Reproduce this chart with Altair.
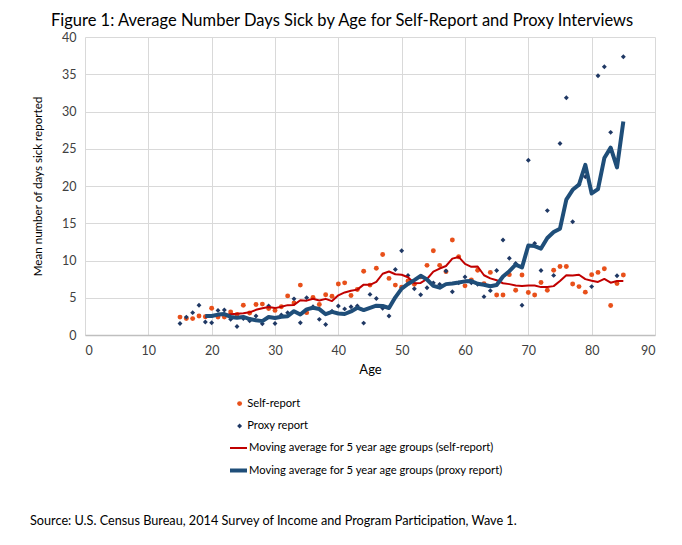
import altair as alt
import pandas as pd

# ---------------- data ----------------
ages = [15, 16, 17, 18, 19, 20, 21, 22, 23, 24, 25, 26, 27, 28, 29, 30, 31, 32, 33, 34,
        35, 36, 37, 38, 39, 40, 41, 42, 43, 44, 45, 46, 47, 48, 49, 50, 51, 52, 53, 54,
        55, 56, 57, 58, 59, 60, 61, 62, 63, 64, 65, 66, 67, 68, 69, 70, 71, 72, 73, 74,
        75, 76, 77, 78, 79, 80, 81, 82, 83, 84, 85]

self_report = [2.4, 2.2, 2.2, 2.55, 2.45, 3.6, 2.4, 2.4, 3.1, 2.75, 4.0, 2.95, 4.1, 4.15, 3.55,
               3.3, 3.8, 5.25, 4.3, 6.7, 3.0, 5.05, 4.1, 5.4, 5.2, 6.85, 7.0, 5.3, 6.1, 8.55,
               6.7, 8.95, 10.8, 7.6, 6.7, 6.4, 7.25, 6.8, 7.8, 9.35, 11.3, 9.35, 8.5, 12.75, 10.5,
               6.6, 7.4, 8.7, 6.9, 8.4, 5.37, 5.37, 8.1, 6.0, 8.05, 5.7, 5.37, 7.05, 6.0, 8.7,
               9.2, 9.2, 6.85, 6.5, 5.75, 8.1, 8.4, 8.9, 3.95, 6.9, 8.05]

proxy_report = [1.55, 2.4, 3.0, 4.0, 1.75, 1.65, 3.3, 3.35, 2.1, 1.15, 2.2, 1.9, 2.55, 1.5, 3.9,
                1.55, 2.7, 3.0, 4.85, 1.65, 5.0, 3.8, 2.1, 1.4, 3.2, 3.9, 3.5, 3.8, 3.9, 1.6,
                5.45, 4.9, 3.6, 2.55, 8.8, 11.3, 8.0, 6.2, 5.4, 6.35, 7.0, 6.8, 8.6, 5.8, 7.0,
                7.8, 7.0, 6.8, 5.15, 5.95, 8.65, 12.75, 10.3, 9.6, 4.0, 23.45, 12.3, 8.65, 16.7, 8.0,
                25.7, 31.85, 15.2, 20.2, 21.25, 6.5, 34.8, 36.0, 27.2, 7.95, 37.35]

ma_ages = [19, 20, 21, 22, 23, 24, 25, 26, 27, 28, 29, 30, 31, 32, 33, 34, 35, 36, 37, 38,
           39, 40, 41, 42, 43, 44, 45, 46, 47, 48, 49, 50, 51, 52, 53, 54, 55, 56, 57, 58,
           59, 60, 61, 62, 63, 64, 65, 66, 67, 68, 69, 70, 71, 72, 73, 74, 75, 76, 77, 78,
           79, 80, 81, 82, 83, 84, 85]

ma_self = [2.36, 2.60, 2.64, 2.68, 2.79, 2.85, 2.93, 3.04, 3.38, 3.59, 3.75, 3.61, 3.78, 4.01,
           4.04, 4.67, 4.61, 4.86, 4.63, 4.85, 4.55, 5.32, 5.71, 5.95, 6.09, 6.76, 6.73, 7.12,
           8.22, 8.52, 8.15, 8.09, 7.75, 6.95, 6.99, 7.52, 8.50, 8.92, 9.26, 10.25, 10.48, 9.54,
           9.15, 9.19, 8.02, 7.60, 7.35, 6.95, 6.83, 6.65, 6.58, 6.64, 6.64, 6.43, 6.43, 6.56,
           7.26, 8.03, 7.99, 8.09, 7.50, 7.28, 7.12, 7.53, 7.02, 7.25, 7.24]

ma_proxy = [2.54, 2.56, 2.74, 2.81, 2.43, 2.31, 2.42, 2.14, 1.98, 1.86, 2.41, 2.28, 2.44, 2.53,
            3.20, 2.75, 3.44, 3.66, 3.48, 2.79, 3.10, 2.88, 2.82, 3.16, 3.66, 3.34, 3.65, 3.93,
            3.89, 3.62, 5.06, 6.23, 6.85, 7.37, 7.94, 7.45, 6.59, 6.35, 6.83, 6.91, 7.04, 7.20,
            7.24, 6.88, 6.75, 6.54, 6.71, 7.86, 8.56, 9.45, 9.06, 12.02, 11.93, 11.60, 13.02,
            13.82, 14.27, 18.18, 19.49, 20.19, 22.84, 19.00, 19.59, 23.75, 25.15, 22.49, 28.66]

x_ticks = [0, 10, 20, 30, 40, 50, 60, 70, 80, 90]
y_ticks = [0, 5, 10, 15, 20, 25, 30, 35, 40]

S_LABEL = "Self-report"
P_LABEL = "Proxy report"
MS_LABEL = "Moving average for 5 year age groups (self-report)"
MP_LABEL = "Moving average for 5 year age groups (proxy report)"
TITLE = "Figure 1: Average Number Days Sick by Age for Self-Report and Proxy Interviews"
SOURCE = "Source: U.S. Census Bureau, 2014 Survey of Income and Program Participation, Wave 1."

# ---------------- tables ----------------
pts = pd.DataFrame({
    "age": ages + ages,
    "days": self_report + proxy_report,
    "series": [S_LABEL] * len(ages) + [P_LABEL] * len(ages),
})
mas = pd.DataFrame({
    "age": ma_ages + ma_ages,
    "days": ma_self + ma_proxy,
    "series": [MS_LABEL] * len(ma_ages) + [MP_LABEL] * len(ma_ages),
})
src = pd.DataFrame({"t": [SOURCE]})

FONT = "Lato"
TXT = "#404040"

x_enc = alt.X("age:Q", scale=alt.Scale(domain=[0, 90], nice=False, zero=False),
              axis=alt.Axis(values=x_ticks, title="Age", grid=True, ticks=False,
                            labelPadding=9, titlePadding=7, titleFontSize=13,
                            domainColor="#BFBFBF", domainWidth=1.3))
y_enc = alt.Y("days:Q", scale=alt.Scale(domain=[0, 40], nice=False),
              axis=alt.Axis(values=y_ticks, title="Mean number of days sick reported",
                            grid=True, ticks=False, domain=False, labelPadding=9,
                            titlePadding=18, titleFontSize=11.6))

pt_legend = alt.Legend(orient="none", legendX=149, legendY=361, title=None,
                       labelFont=FONT, labelFontSize=11.2, labelColor="#000000",
                       labelOffset=2, rowPadding=10.4, padding=0, symbolSize=24,
                       labelLimit=500)
ln_legend = alt.Legend(orient="none", legendX=143, legendY=401.5, title=None,
                       labelFont=FONT, labelFontSize=11.2, labelColor="#000000",
                       labelOffset=0, rowPadding=6.5, padding=0, symbolType="stroke",
                       symbolSize=289, labelLimit=500)

points = alt.Chart(pts).mark_point(filled=True, size=24, opacity=1).encode(
    x=x_enc, y=y_enc,
    color=alt.Color("series:N", scale=alt.Scale(domain=[S_LABEL, P_LABEL],
                                                range=["#E8501A", "#1F3864"]),
                    legend=pt_legend),
    shape=alt.Shape("series:N", scale=alt.Scale(domain=[S_LABEL, P_LABEL],
                                                range=["circle", "diamond"]),
                    legend=pt_legend),
)

lines = alt.Chart(mas).mark_line(strokeJoin="round", strokeCap="butt").encode(
    x=x_enc, y=y_enc,
    stroke=alt.Stroke("series:N", scale=alt.Scale(domain=[MS_LABEL, MP_LABEL],
                                                  range=["#C00000", "#1F4E79"]),
                      legend=ln_legend),
    strokeWidth=alt.StrokeWidth("series:N", scale=alt.Scale(domain=[MS_LABEL, MP_LABEL],
                                                            range=[2, 4]),
                                legend=ln_legend),
)

source = alt.Chart(src).mark_text(align="left", baseline="middle", font=FONT,
                                  fontSize=12.7, color="#000000").encode(
    text="t:N", x=alt.value(-55), y=alt.value(484))

chart = alt.layer(points, lines, source).resolve_scale(
    color="independent", shape="independent"
).properties(
    width=570, height=298,
    title=alt.TitleParams(TITLE, anchor="middle", dx=-28, offset=2, font=FONT,
                          fontSize=16.5, fontWeight="normal", color="#000000"),
    autosize=alt.AutoSizeParams(type="none"),
    padding={"left": 77, "top": 29, "right": 19, "bottom": 202},
).configure_view(stroke=None).configure_axis(
    gridColor="#D9D9D9", gridWidth=1, labelFont=FONT, labelFontSize=12.5,
    labelColor=TXT, titleFont=FONT, titleFontWeight="normal",
    titleColor="#000000",
)

chart.save("out.html", embed_options={"renderer": "svg", "actions": False})
